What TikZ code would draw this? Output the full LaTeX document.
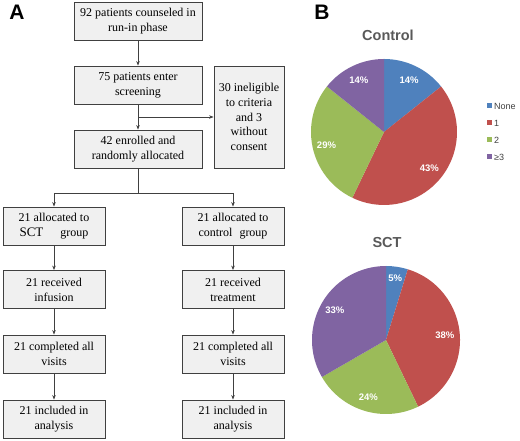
\documentclass[tikz,border=0pt]{standalone}
\usepackage{fontspec}
\setmainfont{Liberation Serif}
\newfontfamily\arial{Liberation Sans}
\usetikzlibrary{arrows.meta,calc}
\definecolor{pblue}{HTML}{4F81BD}
\definecolor{pred}{HTML}{C0504D}
\definecolor{pgreen}{HTML}{9BBB59}
\definecolor{ppurple}{HTML}{8064A2}
\definecolor{boxfill}{HTML}{F0F0F0}
\definecolor{boxline}{HTML}{404040}
\definecolor{titlegray}{HTML}{595959}
\begin{document}
\begin{tikzpicture}[x=1pt,y=1pt,
  box/.style={draw=boxline,fill=boxfill,line width=0.8pt,align=center,inner sep=1pt,
    font=\fontsize{12}{15}\selectfont},
  mainbox/.style={box,minimum width=128pt,minimum height=38pt},
  colbox/.style={box,minimum width=102pt,minimum height=38pt},
  sidebox/.style={box,minimum width=70pt,minimum height=102pt,font=\fontsize{12}{14.7}\selectfont},
  conn/.style={draw=boxline,line width=0.7pt},
  arr/.style={conn,-{Stealth[length=4.5pt,width=3.5pt]}},
  plabel/.style={text=white,font=\arial\bfseries\fontsize{9.5}{11}\selectfont},
  ptitle/.style={text=titlegray,font=\arial\bfseries\fontsize{14.5}{16}\selectfont},
  panel/.style={font=\arial\bfseries\fontsize{21}{24}\selectfont},
  legtext/.style={anchor=west,text=boxline,font=\arial\fontsize{9}{10}\selectfont,inner sep=0pt},
]
\useasboundingbox (0,0) rectangle (520,441);

% panel labels
\node[panel] (A) at (17,429) {A};
\node[panel] (B) at (322,429) {B};

% flowchart
\node[mainbox] (n1) at (138,420) {92 patients counseled in\\run-in phase};
\node[mainbox] (n2) at (138,356) {75 patients enter\\screening};
\node[mainbox] (n3) at (138,292) {42 enrolled and\\randomly allocated};
\node[sidebox] (side) at (249,324) {30 ineligible\\to criteria\\and 3\\without\\consent};

\node[colbox] (l1) at (54,215) {21 allocated to\\{\fontsize{13}{15}\selectfont SCT}\hspace{17pt}group};
\node[colbox] (l2) at (54,151.5) {21 received\\infusion};
\node[colbox] (l3) at (54,87) {21 completed all\\visits};
\node[colbox] (l4) at (54,22) {21 included in\\analysis};

\node[colbox] (r1) at (233,215) {21 allocated to\\control\hspace{7pt}group};
\node[colbox] (r2) at (233,151.5) {21 received\\treatment};
\node[colbox] (r3) at (233,87) {21 completed all\\visits};
\node[colbox] (r4) at (233,22) {21 included in\\analysis};

\coordinate (j1) at (138,324);
\coordinate (j2) at (138,248);
\coordinate (jl) at (54,248);
\coordinate (jr) at (233,248);

\draw[arr] (n1) -- (n2);
\draw[arr] (n2) -- (n3);
\draw[arr] (j1) -- (side.west |- j1);
\draw[conn] (n3) -- (j2);
\draw[conn] (jl) -- (jr);
\draw[arr] (jl) -- (l1);
\draw[arr] (jr) -- (r1);
\draw[arr] (l1) -- (l2);
\draw[arr] (l2) -- (l3);
\draw[arr] (l3) -- (l4);
\draw[arr] (r1) -- (r2);
\draw[arr] (r2) -- (r3);
\draw[arr] (r3) -- (r4);

% Control pie (3,9,6,3 of 21)
\coordinate (pc) at (384,309);
\def\R{73}
\fill[pblue]   (pc) -- ++(90:\R) arc (90:38.571:\R) -- cycle;
\fill[pred]    (pc) -- ++(38.571:\R) arc (38.571:-115.714:\R) -- cycle;
\fill[pgreen]  (pc) -- ++(-115.714:\R) arc (-115.714:-218.571:\R) -- cycle;
\fill[ppurple] (pc) -- ++(-218.571:\R) arc (-218.571:-270:\R) -- cycle;
\node[plabel] (c1) at ($(pc)+(64.3:58)$) {14\%};
\node[plabel] (c2) at ($(pc)+(-38.6:58)$) {43\%};
\node[plabel] (c3) at ($(pc)+(192.9:59)$) {29\%};
\node[plabel] (c4) at ($(pc)+(115.7:58)$) {14\%};
\node[ptitle] (ct) at (388,406) {Control};

% SCT pie (1,8,5,7 of 21)
\coordinate (ps) at (386,101);
\def\Rs{74}
\fill[pblue]   (ps) -- ++(90:\Rs) arc (90:72.857:\Rs) -- cycle;
\fill[pred]    (ps) -- ++(72.857:\Rs) arc (72.857:-64.286:\Rs) -- cycle;
\fill[pgreen]  (ps) -- ++(-64.286:\Rs) arc (-64.286:-150:\Rs) -- cycle;
\fill[ppurple] (ps) -- ++(-150:\Rs) arc (-150:-270:\Rs) -- cycle;
\node[plabel] (s1) at ($(ps)+(81.4:62)$) {5\%};
\node[plabel] (s2) at ($(ps)+(4.3:59)$) {38\%};
\node[plabel] (s3) at ($(ps)+(252.9:60)$) {24\%};
\node[plabel] (s4) at ($(ps)+(150:59)$) {33\%};
\node[ptitle] (st) at (387,198) {SCT};

% legend
\fill[pblue]   (486.5,332.5) rectangle ++(5,5);
\fill[pred]    (486.5,315.5) rectangle ++(5,5);
\fill[pgreen]  (486.5,298.5) rectangle ++(5,5);
\fill[ppurple] (486.5,281.5) rectangle ++(5,5);
\node[legtext] (lg1) at (494,335) {None};
\node[legtext] (lg2) at (494,318) {1};
\node[legtext] (lg3) at (494,301) {2};
\node[legtext] (lg4) at (494,284) {≥3};
\end{tikzpicture}
\end{document}
